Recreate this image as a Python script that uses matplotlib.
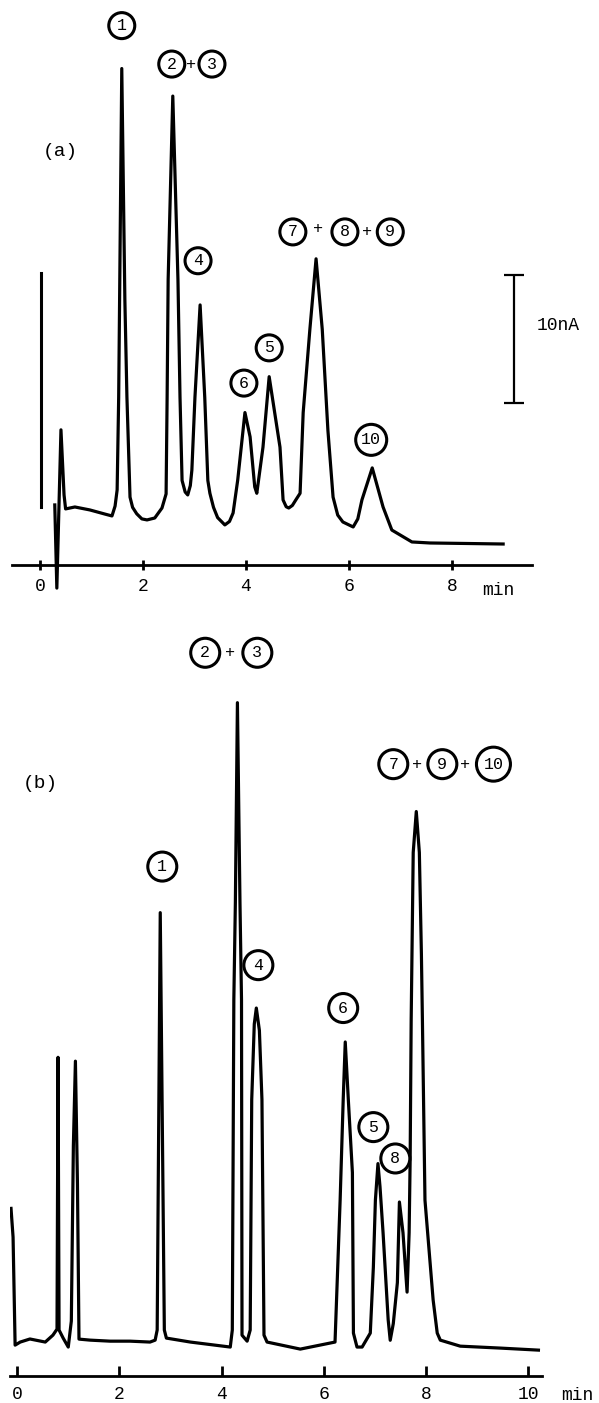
import matplotlib
matplotlib.use('Agg')
import matplotlib.pyplot as plt

plt.rcParams['font.family'] = ['Liberation Mono', 'DejaVu Sans Mono']

# chromatogram (a): time in min, detector current in nA
a_inject_t = [0.03, 0.03]
a_inject_s = [22.8, 4.5]
a_t = [0.29, 0.33, 0.41, 0.47, 0.50, 0.68, 0.97, 1.26, 1.40, 1.46,
       1.50, 1.53, 1.59, 1.65, 1.69, 1.75, 1.80, 1.88, 1.98, 2.08,
       2.23, 2.37, 2.45, 2.47, 2.49, 2.58, 2.68, 2.72, 2.76, 2.82,
       2.87, 2.92, 2.95, 3.01, 3.11, 3.20, 3.26, 3.30, 3.37, 3.45,
       3.59, 3.68, 3.75, 3.84, 3.98, 4.08, 4.17, 4.21, 4.33, 4.45,
       4.66, 4.72, 4.78, 4.83, 4.90, 4.97, 5.05, 5.11, 5.24, 5.36,
       5.48, 5.59, 5.69, 5.78, 5.88, 6.08, 6.17, 6.25, 6.45, 6.66,
       6.83, 7.22, 7.57, 8.30, 8.99]
a_s = [4.69, -1.80, 10.55, 5.47, 4.38, 4.53, 4.30, 3.98, 3.83, 4.60,
       5.86, 13.1, 38.75, 20.7, 13.1, 5.30, 4.50, 4.00, 3.60, 3.52,
       3.67, 4.45, 5.55, 13.1, 22.3, 36.6, 22.3, 13.1, 6.60, 5.70,
       5.47, 6.20, 7.4, 13.1, 20.3, 13.1, 6.60, 5.60, 4.50, 3.70,
       3.13, 3.40, 4.06, 6.64, 11.9, 10.0, 6.10, 5.60, 9.20, 14.7,
       9.20, 5.08, 4.55, 4.45, 4.65, 5.10, 5.60, 11.9, 18.4, 23.9,
       18.4, 10.5, 5.30, 3.90, 3.36, 2.97, 3.60, 5.08, 7.58, 4.53,
       2.73, 1.80, 1.72, 1.68, 1.64]
a_ticks = [0, 2, 4, 6, 8]
a_labels = ['1', '2', '+', '3', '4', '6', '5', '7', '+', '8', '+', '9', '10']
a_label_t = [1.59, 2.56, 2.93, 3.34, 3.07, 3.96, 4.45, 4.91, 5.40, 5.92, 6.35, 6.80, 6.43]
a_label_s = [42.1, 39.1, 39.1, 39.1, 23.75, 14.2, 16.95, 26.0, 26.25, 26.0, 26.0, 26.0, 9.77]
scale_nA = 10

# chromatogram (b)
b_t = [-0.12, -0.08, -0.04, 0.06, 0.25, 0.55, 0.70, 0.78, 0.80, 0.82,
       0.90, 1.00, 1.06, 1.10, 1.14, 1.18, 1.21, 1.43, 1.82, 2.21,
       2.60, 2.70, 2.74, 2.80, 2.88, 2.92, 3.39, 3.87, 4.17, 4.21,
       4.24, 4.27, 4.31, 4.36, 4.39, 4.40, 4.50, 4.56, 4.59, 4.64,
       4.68, 4.74, 4.79, 4.83, 4.89, 5.54, 6.22, 6.32, 6.38, 6.42,
       6.48, 6.56, 6.58, 6.65, 6.75, 6.91, 6.97, 7.01, 7.06, 7.10,
       7.16, 7.26, 7.30, 7.36, 7.44, 7.48, 7.55, 7.63, 7.67, 7.69,
       7.71, 7.75, 7.81, 7.87, 7.91, 7.93, 7.98, 8.14, 8.22, 8.28,
       8.67, 9.45, 10.20]
b_s = [13.1, 10.86, 2.42, 2.66, 2.90, 2.66, 3.20, 3.67, 24.9, 3.60,
       2.97, 2.27, 4.30, 18.0, 24.6, 15.0, 2.89, 2.81, 2.73, 2.73,
       2.66, 2.81, 3.60, 36.2, 3.60, 2.97, 2.66, 2.42, 2.27, 3.60,
       29.4, 37.0, 52.6, 37.0, 29.4, 3.20, 2.73, 3.60, 21.6, 27.5,
       28.75, 27.0, 21.6, 3.20, 2.66, 2.11, 2.66, 13.75, 21.6, 26.1,
       21.6, 15.9, 3.36, 2.27, 2.27, 3.36, 8.50, 13.75, 16.6, 14.8,
       11.2, 4.40, 2.80, 4.10, 7.30, 13.6, 11.2, 6.56, 11.2, 16.9,
       27.8, 40.9, 44.1, 40.9, 33.0, 27.8, 13.75, 5.94, 3.36, 2.81,
       2.34, 2.19, 2.03]
b_ticks = [0, 2, 4, 6, 8, 10]
b_labels = ['2', '+', '3', '1', '4', '6', '5', '8', '7', '+', '9', '+', '10']
b_label_t = [3.68, 4.17, 4.70, 2.84, 4.72, 6.38, 6.97, 7.40, 7.36, 7.83, 8.32, 8.77, 9.32]
b_label_s = [56.5, 56.5, 56.5, 39.8, 32.1, 28.75, 19.45, 17.0, 47.8, 47.8, 47.8, 47.8, 47.8]


def setup_axis(ax, ticks, direction, pad):
    for side in ['left', 'right', 'top']:
        ax.spines[side].set_visible(False)
    ax.spines['bottom'].set_position(('data', 0))
    ax.spines['bottom'].set_linewidth(2)
    ax.set_yticks([])
    ax.set_xticks(ticks)
    ax.set_xticklabels([str(t) for t in ticks])
    ax.tick_params(axis='x', direction=direction, length=7, width=2,
                   labelsize=13, pad=pad)


def put_labels(ax, labels, lt, ls, pad):
    for lab, t, s in zip(labels, lt, ls):
        if lab == '+':
            ax.text(t, s, lab, ha='center', va='center', fontsize=12, zorder=6)
        else:
            ax.text(t, s, lab, ha='center', va='center', fontsize=12, zorder=6,
                    bbox=dict(boxstyle='circle,pad=%.2f' % pad, fc='white',
                              ec='black', lw=2.2))


fig = plt.figure(figsize=(5.99, 14.03), dpi=100)

ax_a = fig.add_axes([12 / 599, 803 / 1403, 520 / 599, 600 / 1403])
ax_a.set_xlim(-0.54, 9.55)
ax_a.set_ylim(-2.73, 44.1)
setup_axis(ax_a, a_ticks, 'inout', 6)
ax_a.plot(a_inject_t, a_inject_s, color='black', lw=2.2)
ax_a.plot(a_t, a_s, color='black', lw=2.3, solid_joinstyle='round')
put_labels(ax_a, a_labels, a_label_t, a_label_s, 0.33)
ax_a.text(0.39, 32.3, '(a)', ha='center', va='center', fontsize=14)
ax_a.errorbar(9.2, 12.66 + scale_nA / 2, yerr=scale_nA / 2, color='black',
              lw=1.6, capsize=7, capthick=1.6)
ax_a.text(9.65, 18.7, '10nA', ha='left', va='center', fontsize=13, clip_on=False)
ax_a.text(8.89, -2.0, 'min', ha='center', va='center', fontsize=13, clip_on=False)

ax_b = fig.add_axes([10 / 599, 0, 532 / 599, 783 / 1403])
ax_b.set_xlim(-0.14, 10.27)
ax_b.set_ylim(-2.1, 59.06)
setup_axis(ax_b, b_ticks, 'in', 7)
ax_b.plot(b_t, b_s, color='black', lw=2.3, solid_joinstyle='round')
put_labels(ax_b, b_labels, b_label_t, b_label_s, 0.42)
ax_b.text(0.45, 46.3, '(b)', ha='center', va='center', fontsize=14)
ax_b.text(10.96, -1.55, 'min', ha='center', va='center', fontsize=13, clip_on=False)

fig.savefig('out.png', dpi=100)
